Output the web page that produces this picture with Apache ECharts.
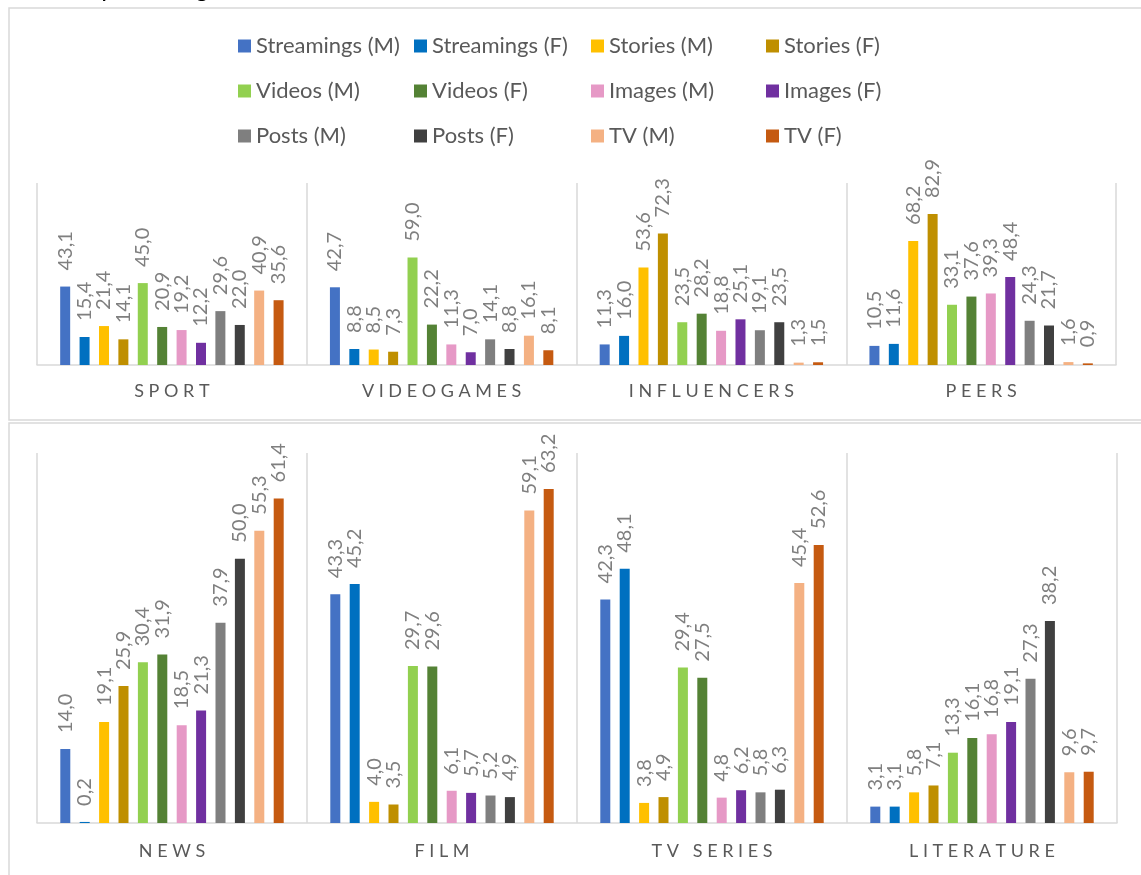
<!DOCTYPE html>
<html>
<head>
<meta charset="utf-8">
<script src="https://cdn.jsdelivr.net/npm/echarts@6/dist/echarts.min.js"></script>
<style>
html,body{margin:0;padding:0;background:#fff;}
#chart{width:1141px;height:875px;}
</style>
</head>
<body>
<div id="chart"></div>
<script>
const seriesNames = ['Streamings (M)','Streamings (F)','Stories (M)','Stories (F)','Videos (M)','Videos (F)','Images (M)','Images (F)','Posts (M)','Posts (F)','TV (M)','TV (F)'];
const topCategories = ['Sport','Videogames','Influencers','Peers'];
const bottomCategories = ['News','Film','TV series','Literature'];

const sport       = [43.1, 15.4, 21.4, 14.1, 45.0, 20.9, 19.2, 12.2, 29.6, 22.0, 40.9, 35.6];
const videogames  = [42.7, 8.8, 8.5, 7.3, 59.0, 22.2, 11.3, 7.0, 14.1, 8.8, 16.1, 8.1];
const influencers = [11.3, 16.0, 53.6, 72.3, 23.5, 28.2, 18.8, 25.1, 19.1, 23.5, 1.3, 1.5];
const peers       = [10.5, 11.6, 68.2, 82.9, 33.1, 37.6, 39.3, 48.4, 24.3, 21.7, 1.6, 0.9];
const news        = [14.0, 0.2, 19.1, 25.9, 30.4, 31.9, 18.5, 21.3, 37.9, 50.0, 55.3, 61.4];
const film        = [43.3, 45.2, 4.0, 3.5, 29.7, 29.6, 6.1, 5.7, 5.2, 4.9, 59.1, 63.2];
const tvSeries    = [42.3, 48.1, 3.8, 4.9, 29.4, 27.5, 4.8, 6.2, 5.8, 6.3, 45.4, 52.6];
const literature  = [3.1, 3.1, 5.8, 7.1, 13.3, 16.1, 16.8, 19.1, 27.3, 38.2, 9.6, 9.7];

const topValues = [sport, videogames, influencers, peers];
const bottomValues = [news, film, tvSeries, literature];

const colors = ['#4472C4','#0070C0','#FFC000','#BF8F00','#92D050','#548235','#E699C6','#7030A0','#7F7F7F','#404040','#F4B183','#C55A11'];
const FONT = 'Lato';

const chart = echarts.init(document.getElementById('chart'), null, {renderer:'canvas'});

function makeSeries(values, gridIdx) {
  return seriesNames.map((name, i) => ({
    name: name,
    type: 'bar',
    xAxisIndex: gridIdx,
    yAxisIndex: gridIdx,
    barWidth: 10,
    barGap: '94%',
    itemStyle: {color: colors[i]},
    data: values.map(v => v[i]),
    label: {
      show: true,
      position: 'top',
      rotate: 90,
      align: 'left',
      verticalAlign: 'middle',
      distance: 16,
      color: '#7f7f7f',
      fontSize: 20,
      fontFamily: FONT,
      formatter: p => p.value.toFixed(1).replace('.', ',')
    },
    emphasis: {disabled: true},
    animation: false
  }));
}

function xAxisFor(cats, gridIdx, margin) {
  return {
    gridIndex: gridIdx,
    type: 'category',
    data: cats,
    axisLine: {show: true, lineStyle: {color: '#d9d9d9', width: 1.5}},
    axisTick: {show: false},
    splitLine: {show: true, lineStyle: {color: '#d9d9d9', width: 1.5}},
    axisLabel: {
      margin: margin,
      color: '#595959',
      fontSize: 18,
      fontFamily: FONT,
      formatter: s => s.toUpperCase().split('').join(' ')
    }
  };
}

const legendCols = [[0,4,8],[1,5,9],[2,6,10],[3,7,11]];
const legendLeft = [233, 409, 586, 761];

const option = {
  backgroundColor: '#fff',
  animation: false,
  graphic: [
    {type:'rect', shape:{x:9, y:8, width:1150, height:412}, style:{fill:'none', stroke:'#d9d9d9', lineWidth:1.5}, silent:true},
    {type:'rect', shape:{x:9, y:423, width:1150, height:470}, style:{fill:'none', stroke:'#d9d9d9', lineWidth:1.5}, silent:true},
    {type:'text', x:18, y:2, style:{text:'Total in percentage', font:'italic 26px ' + FONT, fill:'#000', verticalAlign:'bottom'}, silent:true}
  ],
  legend: legendCols.map((col, k) => ({
    orient: 'vertical',
    left: legendLeft[k],
    top: 30,
    itemWidth: 13,
    itemHeight: 13,
    itemGap: 23,
    icon: 'rect',
    selectedMode: false,
    textStyle: {color: '#595959', fontSize: 22, fontFamily: FONT, lineHeight: 22},
    data: col.map(i => seriesNames[i])
  })),
  grid: [
    {left: 37, right: 25, top: 183, height: 182},
    {left: 37, right: 24, top: 453, height: 370}
  ],
  xAxis: [xAxisFor(topCategories, 0, 17), xAxisFor(bottomCategories, 1, 19)],
  yAxis: [
    {gridIndex: 0, type: 'value', min: 0, max: 100, show: false},
    {gridIndex: 1, type: 'value', min: 0, max: 70, show: false}
  ],
  series: makeSeries(topValues, 0).concat(makeSeries(bottomValues, 1))
};
chart.setOption(option);
</script>
</body>
</html>
